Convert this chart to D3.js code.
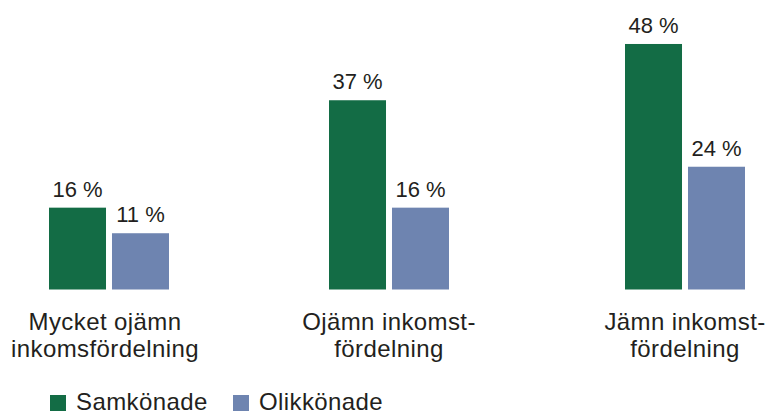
<!DOCTYPE html>
<html>
<head>
<meta charset="utf-8">
<script src="https://cdn.jsdelivr.net/npm/d3@7"></script>
<style>
  html, body { margin: 0; padding: 0; background: #fff; }
  svg { display: block; }
  text { font-family: "Liberation Sans", Arial, Helvetica, sans-serif; fill: #231f20; }
</style>
</head>
<body>
<svg id="chart" width="768" height="415"></svg>
<script>
const categories = ["Mycket ojämn inkomsfördelning", "Ojämn inkomst-fördelning", "Jämn inkomst-fördelning"];
const categoryLines = [["Mycket ojämn", "inkomsfördelning"], ["Ojämn inkomst-", "fördelning"], ["Jämn inkomst-", "fördelning"]];
const seriesNames = ["Samkönade", "Olikkönade"];
const samkonade = [16, 37, 48];
const olikkonade = [11, 16, 24];
const seriesValues = [samkonade, olikkonade];
const colors = ["#136c45", "#6e84b0"];

const svg = d3.select("#chart");
const baseY = 289.5;

const x0 = d3.scaleOrdinal().domain(categories).range([109, 389, 685]);
const x1 = d3.scaleBand().domain(seriesNames).range([-60, 60]).paddingInner(0.095).paddingOuter(0);
const y = d3.scaleLinear().domain([0, 50]).range([baseY, baseY - 5.115 * 50]);

const data = [];
categories.forEach((c, i) => {
  seriesNames.forEach((s, j) => {
    data.push({ cat: c, series: s, value: seriesValues[j][i], color: colors[j] });
  });
});

const g = svg.append("g");
g.selectAll("rect.bar").data(data).enter().append("rect")
  .attr("class", "bar")
  .attr("x", d => x0(d.cat) + x1(d.series))
  .attr("y", d => y(d.value))
  .attr("width", x1.bandwidth())
  .attr("height", d => y(0) - y(d.value))
  .attr("fill", d => d.color);

g.selectAll("text.val").data(data).enter().append("text")
  .attr("class", "val")
  .attr("x", d => x0(d.cat) + x1(d.series) + x1.bandwidth() / 2)
  .attr("y", d => y(d.value) - 11)
  .attr("text-anchor", "middle")
  .style("font-size", "22px")
  .text(d => d.value + " %");

// category labels
categories.forEach((c, i) => {
  const t = svg.append("text")
    .attr("text-anchor", "middle")
    .style("font-size", "24px")
    .style("letter-spacing", "0.4px");
  categoryLines[i].forEach((line, k) => {
    t.append("tspan")
      .attr("x", x0(c) - (i === 0 ? 4 : 0))
      .attr("y", 330 + k * 26.5)
      .text(line);
  });
});

// legend
const legendX = [50, 233];
const lg = svg.append("g");
seriesNames.forEach((s, j) => {
  lg.append("rect")
    .attr("x", legendX[j]).attr("y", 395)
    .attr("width", 16).attr("height", 16)
    .attr("fill", colors[j]);
  lg.append("text")
    .attr("x", legendX[j] + 26).attr("y", 410)
    .style("font-size", "24px")
    .style("letter-spacing", "0.4px")
    .text(s);
});
</script>
</body>
</html>
